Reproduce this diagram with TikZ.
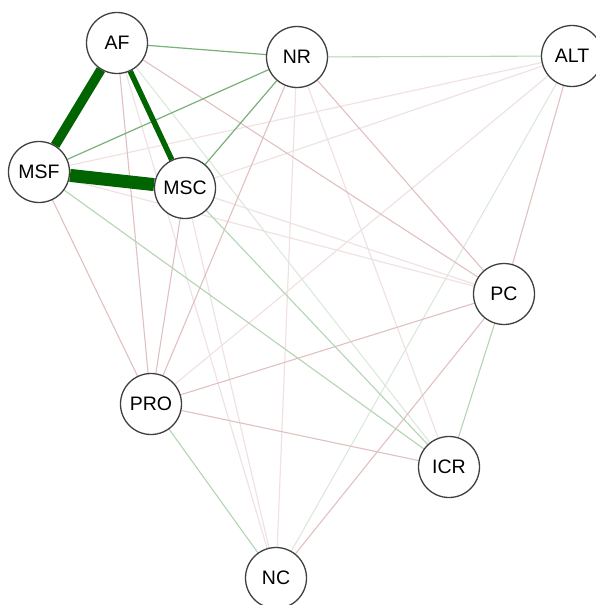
\documentclass[tikz,border=0pt]{standalone}
\usepackage{fontspec}
\setmainfont{Liberation Sans}
\usetikzlibrary{backgrounds}
\definecolor{gdark}{RGB}{0,100,0}
\definecolor{gmed}{RGB}{120,176,120}
\definecolor{glight}{RGB}{180,212,180}
\definecolor{gfaint}{RGB}{220,232,220}
\definecolor{rmed}{RGB}{224,192,192}
\definecolor{rfaint}{RGB}{240,226,226}
\tikzset{
  vnode/.style={circle,draw=black!75,line width=1.3pt,fill=white,minimum size=61pt,inner sep=0pt,font=\fontsize{19.5}{21}\selectfont},
  egm/.style={draw=gmed,line width=1.2pt},
  egl/.style={draw=glight,line width=1.1pt},
  egf/.style={draw=gfaint,line width=1.1pt},
  erm/.style={draw=rmed,line width=1.1pt},
  erf/.style={draw=rfaint,line width=1.2pt},
}
\begin{document}
\begin{tikzpicture}[x=1pt,y=-1pt]
\useasboundingbox (0,0) rectangle (596,605);
\clip (0,0) rectangle (596,605);
\node[vnode] (AF) at (117,43) {AF};
\node[vnode] (NR) at (297,57) {NR};
\node[vnode] (ALT) at (572,56) {ALT};
\node[vnode] (MSF) at (39,172) {MSF};
\node[vnode] (MSC) at (185,188) {MSC};
\node[vnode] (PC) at (504,294) {PC};
\node[vnode] (PRO) at (151,404) {PRO};
\node[vnode] (ICR) at (449,467) {ICR};
\node[vnode] (NC) at (276,578) {NC};
\begin{scope}[on background layer]
% faint pink
\draw[erf] (ALT) -- (MSF);
\draw[erf] (ALT) -- (MSC);
\draw[erf] (ALT) -- (PRO);
\draw[erf] (NR) -- (NC);
\draw[erf] (AF) -- (NC);
\draw[erf] (MSC) -- (NC);
\draw[erf] (NR) -- (ICR);
\draw[erf] (MSF) -- (PC);
\draw[erf] (MSC) -- (PC);
% faint green
\draw[egf] (AF) -- (ICR);
\draw[egf] (ALT) -- (NC);
% medium pink
\draw[erm] (AF) -- (PRO);
\draw[erm] (MSF) -- (PRO);
\draw[erm] (MSC) -- (PRO);
\draw[erm] (NR) -- (PRO);
\draw[erm] (PRO) -- (PC);
\draw[erm] (PRO) -- (ICR);
\draw[erm] (NC) -- (PC);
\draw[erm] (NR) -- (PC);
\draw[erm] (AF) -- (PC);
\draw[erm] (ALT) -- (PC);
% light green
\draw[egl] (NR) -- (ALT);
\draw[egl] (PRO) -- (NC);
\draw[egl] (PC) -- (ICR);
\draw[egl] (MSF) -- (ICR);
\draw[egl] (MSC) -- (ICR);
% medium green
\draw[egm] (AF) -- (NR);
\draw[egm] (NR) -- (MSF);
\draw[egm] (NR) -- (MSC);
% strong green
\draw[draw=gdark,line width=5.5pt] (AF) -- (MSC);
\draw[draw=gdark,line width=9.5pt] (AF) -- (MSF);
\draw[draw=gdark,line width=13pt] (MSF) -- (MSC);
\end{scope}
\end{tikzpicture}
\end{document}
